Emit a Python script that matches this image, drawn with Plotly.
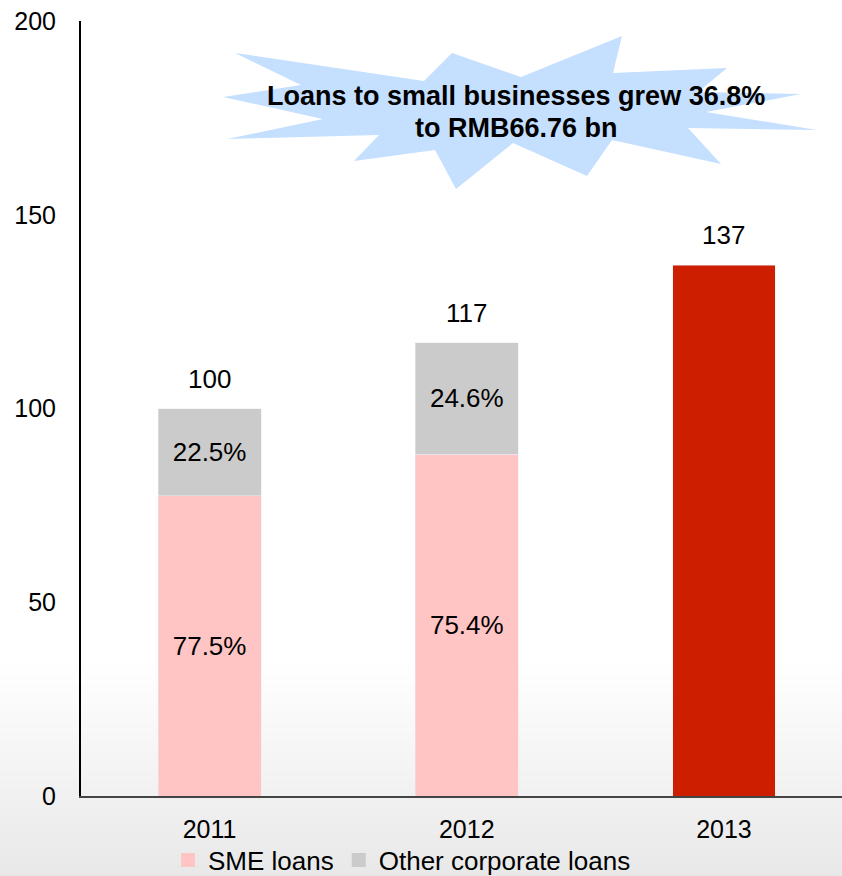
import plotly.graph_objects as go

# ---- data -------------------------------------------------------------
years = ["2011", "2012", "2013"]
totals = [100, 117, 137]
sme_share = [77.5, 75.4]        # % of total, 2011-2012
other_share = [22.5, 24.6]      # % of total, 2011-2012
callout_lines = ["Loans to small businesses grew 36.8%", "to RMB66.76 bn"]

# ---- layout constants (pixels) ------------------------------------------
W, H = 842, 876
ML, MR, MT, MB = 81, 0, 21, 80
PW, PH = W - ML - MR, H - MT - MB

FONT = "Liberation Sans, Arial, sans-serif"
PINK = "#FFC5C5"
GREY = "#CBCBCB"
RED = "#CD1E00"
BURST = "#C5DFFF"


def px_to_paper(px, py):
    return (px - ML) / PW, (H - MB - py) / PH


# starburst outline, in page pixels
burst_pts = [
    (235, 53), (424, 81), (452, 53), (521, 77), (622, 36), (613, 73),
    (727, 68), (698, 92), (801, 94), (706, 112), (817, 130), (688, 128),
    (721, 164), (612, 140), (587, 176), (513, 143), (456, 189), (435, 150),
    (354, 161), (379, 135), (227, 139), (323, 119), (223, 97), (301, 85),
]

sme_vals = [t * s / 100 for t, s in zip(totals[:2], sme_share)]
other_vals = [t * s / 100 for t, s in zip(totals[:2], other_share)]

fig = go.Figure()
fig.add_bar(
    x=years[:2], y=sme_vals, name="SME loans", marker_color=PINK,
    text=[f"{v}%" for v in sme_share], textposition="inside",
    insidetextanchor="middle", textangle=0, showlegend=False,
    textfont=dict(family=FONT, size=26, color="black"),
)
fig.add_bar(
    x=years[:2], y=other_vals, name="Other corporate loans", marker_color=GREY,
    text=[f"{v}%" for v in other_share], textposition="inside",
    insidetextanchor="middle", textangle=0, showlegend=False,
    textfont=dict(family=FONT, size=26, color="black"),
)
fig.add_bar(x=years[2:], y=totals[2:], marker_color=RED, showlegend=False)

# legend keys with larger square swatches
for name, col in (("SME loans", PINK), ("Other corporate loans", GREY)):
    fig.add_scatter(
        x=[None], y=[None], mode="markers", name=name,
        marker=dict(symbol="square", size=14, color=col),
    )

# totals above each column (category index positions)
for i, tot in enumerate(totals):
    fig.add_annotation(
        xref="x", yref="y", x=i, y=tot, text=str(tot), showarrow=False,
        yanchor="bottom", yshift=13,
        font=dict(family=FONT, size=26, color="black"),
    )

shapes = []
# soft grey fade at the bottom of the page
y_start, y_end, step = 660, H, 3
for py in range(y_start, y_end, step):
    frac = (py - y_start) / (y_end - y_start)
    c = int(round(255 - 23 * frac))
    x0, y0 = px_to_paper(0, py + step)
    x1, y1 = px_to_paper(W, py)
    shapes.append(dict(
        type="rect", xref="paper", yref="paper", x0=x0, x1=x1, y0=y0, y1=y1,
        fillcolor=f"rgb({c},{c},{c})", line_width=0, layer="below",
    ))

# starburst callout
path = "M " + " L ".join(
    "{:.4f},{:.4f}".format(*px_to_paper(x, y)) for x, y in burst_pts) + " Z"
shapes.append(dict(type="path", xref="paper", yref="paper", path=path,
                   fillcolor=BURST, line_width=0, layer="above"))

for line, py in zip(callout_lines, (96, 128)):
    cx, cy = px_to_paper(516, py)
    fig.add_annotation(
        xref="paper", yref="paper", x=cx, y=cy, showarrow=False,
        xanchor="center", yanchor="middle", text=f"<b>{line}</b>",
        font=dict(family=FONT, size=27, color="black"),
    )

lx, ly = px_to_paper(168, 860)
fig.update_layout(
    width=W, height=H,
    margin=dict(l=ML, r=MR, t=MT, b=MB, autoexpand=False),
    paper_bgcolor="white", plot_bgcolor="rgba(0,0,0,0)",
    barmode="stack", bargap=0.6,
    shapes=shapes,
    font=dict(family=FONT, size=25, color="black"),
    legend=dict(
        orientation="h", x=lx, y=ly, xanchor="left", yanchor="middle",
        font=dict(family=FONT, size=26, color="black"),
        bgcolor="rgba(0,0,0,0)", itemwidth=30, traceorder="normal",
    ),
    xaxis=dict(
        type="category", categoryarray=years, categoryorder="array",
        range=[-0.5, 2.459], showgrid=False, ticks="",
        showline=True, linecolor="#444444", linewidth=2,
        tickfont=dict(family=FONT, size=25, color="black"),
        ticklabelstandoff=10,
    ),
    yaxis=dict(
        range=[0, 200], tickvals=[0, 50, 100, 150, 200], showgrid=False,
        zeroline=False, ticks="", showline=True, linecolor="black",
        linewidth=2, tickfont=dict(family=FONT, size=25, color="black"),
        ticklabelstandoff=18,
    ),
)

fig.write_html("out.html")
